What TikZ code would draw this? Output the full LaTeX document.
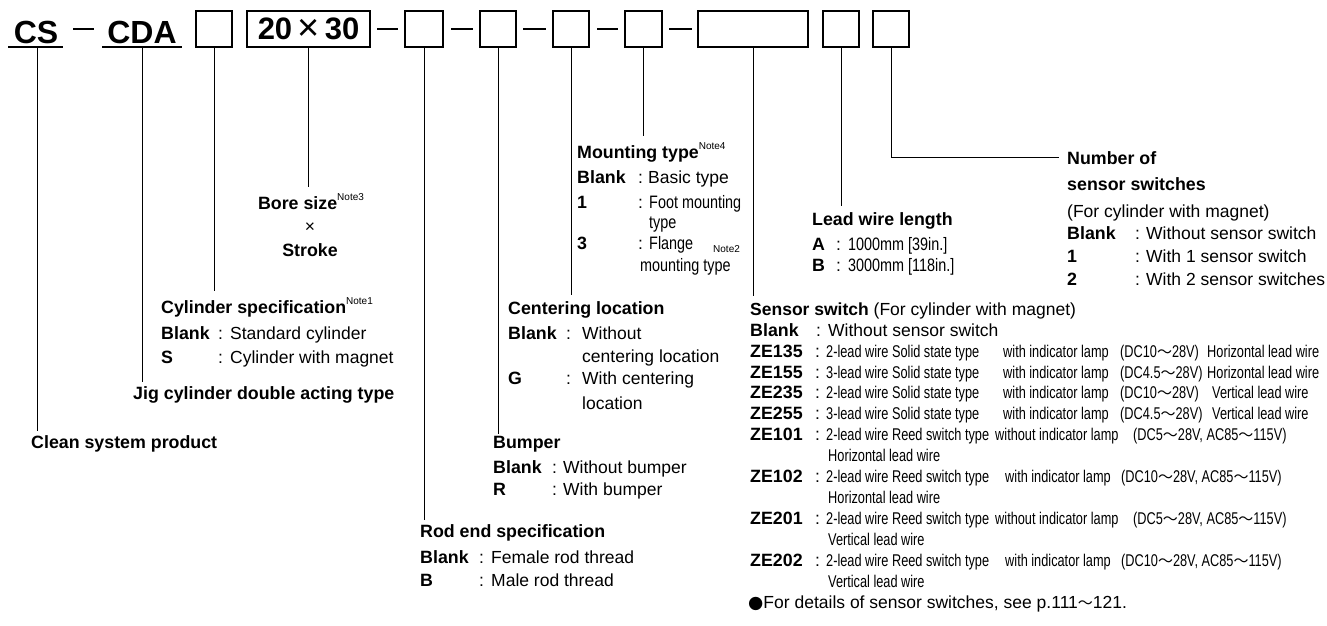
\documentclass[tikz,border=0pt]{standalone}
\usepackage{fontspec}
\setmainfont{Liberation Sans}
\newfontfamily\narrowA[FakeStretch=0.8]{Liberation Sans}
\newfontfamily\narrowB[FakeStretch=0.75]{Liberation Sans}
\newfontfamily\djv{DejaVu Sans}
\newfontfamily\cjkjp{Noto Sans CJK JP}
\newcommand\fs{\fontsize{17.5}{21}\selectfont}
\newcommand\fsb{\fontsize{17.8}{21}\selectfont\bfseries}
\newcommand\fsn{\narrowA\fontsize{18}{20}\selectfont}
\newcommand\fst{\narrowB\fontsize{17}{18}\selectfont}
\newcommand\nt[1]{\raisebox{0.5em}{\mdseries\fontsize{10}{10}\selectfont Note#1}}
\newcommand\wv{{\cjkjp\fontsize{15}{15}\selectfont ～}}
\tikzset{
  t/.style={anchor=base west, inner sep=0pt, font=\fs},
  tb/.style={anchor=base west, inner sep=0pt, font=\fsb},
  tn/.style={anchor=base west, inner sep=0pt, font=\fsn},
  tt/.style={anchor=base west, inner sep=0pt, font=\fst},
  cbox/.style={draw, line width=1.4pt, minimum height=36pt, inner sep=0pt},
  conn/.style={line width=1pt},
  dashln/.style={line width=1.2pt},
  big/.style={anchor=base, inner sep=0pt, font=\fontsize{32}{32}\selectfont\bfseries},
}
\begin{document}
\begin{tikzpicture}[x=1pt,y=-1pt]
\useasboundingbox[fill=white] (0,0) rectangle (1327,626);
% ---- code row ----
\node[big] (cs) at (36,44) {CS};
\node[big] (cda) at (142,44) {CDA};
\draw[line width=1.3pt] (8,47) -- (63,47);
\draw[line width=1.3pt] (102,47) -- (182,47);
\coordinate (csU) at (37,47);
\coordinate (cdaU) at (142,47);
\draw[dashln] (73,29) -- (94,29);
\node[cbox, minimum width=36pt] (b1) at (214,29) {};
\node[cbox, minimum width=123pt, font=\fontsize{31}{31}\selectfont\bfseries] (b2) at (308.5,29) {20\,{\mdseries\fontsize{38}{38}\selectfont\raisebox{-1pt}{×}}\,30};
\draw[dashln] (377,29) -- (398,29);
\node[cbox, minimum width=38pt] (b3) at (424,29) {};
\draw[dashln] (451,29) -- (473,29);
\node[cbox, minimum width=36pt] (b4) at (498,29) {};
\draw[dashln] (523,29) -- (546,29);
\node[cbox, minimum width=36pt] (b5) at (571,29) {};
\draw[dashln] (597,29) -- (618,29);
\node[cbox, minimum width=37pt] (b6) at (643.5,29) {};
\draw[dashln] (669,29) -- (692,29);
\node[cbox, minimum width=110pt] (b7) at (753,29) {};
\node[cbox, minimum width=36pt] (b8) at (841,29) {};
\node[cbox, minimum width=36pt] (b9) at (891,29) {};
% ---- Clean system / Jig ----
\node[tb] (clean) at (31,448) {Clean system product};
\node[tb] (jig) at (133,399) {Jig cylinder double acting type};
% ---- Cylinder specification ----
\node[tb] (cyl) at (161,313) {Cylinder specification\nt1};
\node[tb] (cylA) at (161,339) {Blank};
\node[t] (cylAc) at (218,339) {:};
\node[t] (cylAt) at (230,339) {Standard cylinder};
\node[tb] (cylB) at (161,363) {S};
\node[t] (cylBc) at (218,363) {:};
\node[t] (cylBt) at (230,363) {Cylinder with magnet};
% ---- Bore size ----
\node[tb, anchor=base] (bore) at (311,209) {Bore size\nt3};
\node[t, anchor=base] (times) at (310,232) {×};
\node[tb, anchor=base] (stroke) at (310,256) {Stroke};
% ---- Mounting type ----
\node[tb] (mnt) at (577,158) {Mounting type\nt4};
\node[tb] (mntA) at (577,183) {Blank};
\node[t] (mntAc) at (638,183) {:};
\node[t] (mntAt) at (648,183) {Basic type};
\node[tb] (mntB) at (577,208) {1};
\node[t] (mntBc) at (638,208) {:};
\node[tn] (mntBt) at (649,208) {Foot mounting};
\node[tn] (mntBt2) at (649,228) {type};
\node[tb] (mntC) at (577,249) {3};
\node[t] (mntCc) at (638,249) {:};
\node[tn] (mntCt) at (649,249) {Flange};
\node[anchor=base west, inner sep=0pt, font=\fontsize{10}{10}\selectfont] (mntN) at (713,252) {Note2};
\node[tn] (mntCt2) at (640,271) {mounting type};
% ---- Centering location ----
\node[tb] (cen) at (508,314) {Centering location};
\node[tb] (cenA) at (508,339) {Blank};
\node[t] (cenAc) at (566,339) {:};
\node[t] (cenAt) at (582,339) {Without};
\node[t] (cenAt2) at (582,362) {centering location};
\node[tb] (cenB) at (508,384) {G};
\node[t] (cenBc) at (566,384) {:};
\node[t] (cenBt) at (582,384) {With centering};
\node[t] (cenBt2) at (582,409) {location};
% ---- Bumper ----
\node[tb] (bmp) at (493,448) {Bumper};
\node[tb] (bmpA) at (493,473) {Blank};
\node[t] (bmpAc) at (552,473) {:};
\node[t] (bmpAt) at (563,473) {Without bumper};
\node[tb] (bmpB) at (493,495) {R};
\node[t] (bmpBc) at (552,495) {:};
\node[t] (bmpBt) at (563,495) {With bumper};
% ---- Rod end ----
\node[tb] (rod) at (420,537) {Rod end specification};
\node[tb] (rodA) at (420,563) {Blank};
\node[t] (rodAc) at (479,563) {:};
\node[t] (rodAt) at (491,563) {Female rod thread};
\node[tb] (rodB) at (420,586) {B};
\node[t] (rodBc) at (479,586) {:};
\node[t] (rodBt) at (491,586) {Male rod thread};
% ---- Lead wire ----
\node[tb] (lead) at (812,225) {Lead wire length};
\node[tb] (leadA) at (812,250) {A};
\node[t] (leadAc) at (836,250) {:};
\node[tn] (leadAt) at (848,250) {1000mm [39in.]};
\node[tb] (leadB) at (812,271) {B};
\node[t] (leadBc) at (836,271) {:};
\node[tn] (leadBt) at (848,271) {3000mm [118in.]};
% ---- Number of sensor switches ----
\node[tb] (num) at (1067,164) {Number of};
\node[tb] (num2) at (1067,190) {sensor switches};
\node[t] (num3) at (1067,217) {(For cylinder with magnet)};
\node[tb] (numA) at (1067,239) {Blank};
\node[t] (numAc) at (1135,239) {:};
\node[t] (numAt) at (1146,239) {Without sensor switch};
\node[tb] (numB) at (1067,262) {1};
\node[t] (numBc) at (1135,262) {:};
\node[t] (numBt) at (1146,262) {With 1 sensor switch};
\node[tb] (numC) at (1067,285) {2};
\node[t] (numCc) at (1135,285) {:};
\node[t] (numCt) at (1146,285) {With 2 sensor switches};
% ---- Sensor switch ----
\node[t] (sen) at (750,315) {\textbf{Sensor switch} (For cylinder with magnet)};
\node[tb] (senA) at (750,336) {Blank};
\node[t] (senAc) at (816,336) {:};
\node[t] (senAt) at (828,336) {Without sensor switch};
% rows
\node[tb] (z1) at (750,357) {ZE135};
\node[tb] (z2) at (750,378) {ZE155};
\node[tb] (z3) at (750,398) {ZE235};
\node[tb] (z4) at (750,419) {ZE255};
\node[tb] (z5) at (750,440) {ZE101};
\node[tb] (z6) at (750,482) {ZE102};
\node[tb] (z7) at (750,524) {ZE201};
\node[tb] (z8) at (750,566) {ZE202};
\foreach \yy/\nm in {357/c1,378/c2,398/c3,419/c4,440/c5,482/c6,524/c7,566/c8}
  \node[t] (col\nm) at (815,\yy) {:};
\node[tt] (z1a) at (826,357) {2-lead wire Solid state type};
\node[tt] (z1b) at (1003,357) {with indicator lamp};
\node[tt] (z1c) at (1120,357) {(DC10\wv28V)};
\node[tt] (z1d) at (1207,357) {Horizontal lead wire};
\node[tt] (z2a) at (826,378) {3-lead wire Solid state type};
\node[tt] (z2b) at (1003,378) {with indicator lamp};
\node[tt] (z2c) at (1120,378) {(DC4.5\wv28V)};
\node[tt] (z2d) at (1207,378) {Horizontal lead wire};
\node[tt] (z3a) at (826,398) {2-lead wire Solid state type};
\node[tt] (z3b) at (1003,398) {with indicator lamp};
\node[tt] (z3c) at (1120,398) {(DC10\wv28V)};
\node[tt] (z3d) at (1212,398) {Vertical lead wire};
\node[tt] (z4a) at (826,419) {3-lead wire Solid state type};
\node[tt] (z4b) at (1003,419) {with indicator lamp};
\node[tt] (z4c) at (1120,419) {(DC4.5\wv28V)};
\node[tt] (z4d) at (1212,419) {Vertical lead wire};
\node[tt] (z5a) at (826,440) {2-lead wire Reed switch type};
\node[tt] (z5b) at (995,440) {without indicator lamp};
\node[tt] (z5c) at (1133,440) {(DC5\wv28V, AC85\wv115V)};
\node[tt] (z5e) at (828,461) {Horizontal lead wire};
\node[tt] (z6a) at (826,482) {2-lead wire Reed switch type};
\node[tt] (z6b) at (1005,482) {with indicator lamp};
\node[tt] (z6c) at (1121,482) {(DC10\wv28V, AC85\wv115V)};
\node[tt] (z6e) at (828,503) {Horizontal lead wire};
\node[tt] (z7a) at (826,524) {2-lead wire Reed switch type};
\node[tt] (z7b) at (995,524) {without indicator lamp};
\node[tt] (z7c) at (1133,524) {(DC5\wv28V, AC85\wv115V)};
\node[tt] (z7e) at (828,545) {Vertical lead wire};
\node[tt] (z8a) at (826,566) {2-lead wire Reed switch type};
\node[tt] (z8b) at (1005,566) {with indicator lamp};
\node[tt] (z8c) at (1121,566) {(DC10\wv28V, AC85\wv115V)};
\node[tt] (z8e) at (828,587) {Vertical lead wire};
\node[t] (det) at (748,608) {{\djv ●}For details of sensor switches, see p.111\wv121.};
% ---- connectors ----
\draw[conn] (csU) -- ([yshift=4pt]csU |- clean.north);
\draw[conn] (cdaU) -- ([yshift=4pt]cdaU |- jig.north);
\draw[conn] (b1.south) -- ([yshift=6pt]b1.south |- cyl.north);
\draw[conn] (b2.south) -- ([yshift=6pt]b2.south |- bore.north);
\draw[conn] (b3.south) -- ([yshift=4pt]b3.south |- rod.north);
\draw[conn] (b4.south) -- ([yshift=2pt]b4.south |- bmp.north);
\draw[conn] (b5.south) -- ([yshift=6pt]b5.south |- cen.north);
\draw[conn] (b6.south) -- ([yshift=6pt]b6.south |- mnt.north);
\draw[conn] (b7.south) -- ([yshift=6pt]b7.south |- sen.north);
\draw[conn] (b8.south) -- ([yshift=6pt]b8.south |- lead.north);
\draw[conn] (b9.south) |- ([xshift=-8pt]num.west);
\end{tikzpicture}
\end{document}
